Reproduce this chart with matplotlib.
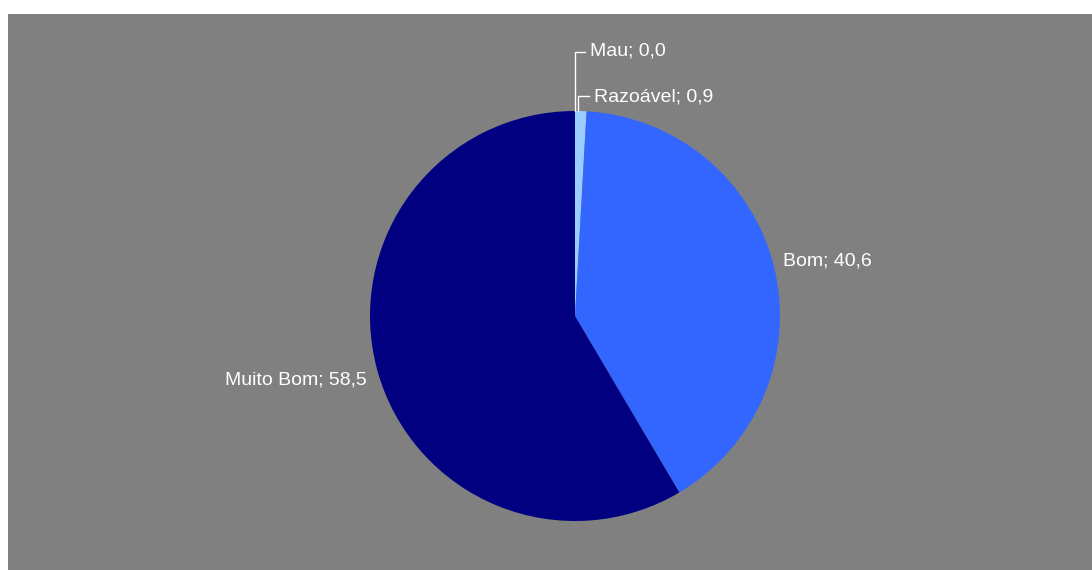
import matplotlib.pyplot as plt
from matplotlib.patches import Rectangle

# data
labels = ['Mau', 'Razoável', 'Bom', 'Muito Bom']
values = [0.0, 0.9, 40.6, 58.5]
colors = ['#CCE0FF', '#99CCFF', '#3366FF', '#000080']

W, H = 1092, 570
fig = plt.figure(figsize=(W / 100, H / 100), dpi=100)
fig.patch.set_facecolor('white')
ax = fig.add_axes([0, 0, 1, 1])

# gray plot area
ax.add_patch(Rectangle((8, 0), W - 8, H - 14, facecolor='#808080', edgecolor='none', zorder=0))

cx, cy, r = 575, H - 316, 205
ax.pie(values, colors=colors, startangle=90, counterclock=False,
       center=(cx, cy), radius=r, frame=True,
       wedgeprops=dict(linewidth=0))
ax.set_xlim(0, W)
ax.set_ylim(0, H)
ax.set_aspect('equal')
ax.axis('off')

def txt(s):
    return s.replace('.', ',')

font = dict(color='white', fontsize=14, family='Liberation Sans', va='center')

# small slices with leader lines
top = H - 111
ax.plot([575, 575, 585], [top, H - 52, H - 52], color='white', lw=1)
ax.text(590, H - 51, f'{labels[0]}; {txt(f"{values[0]:.1f}")}', ha='left', **font)
ax.plot([578, 578, 589], [top, H - 96, H - 96], color='white', lw=1)
ax.text(594, H - 97, f'{labels[1]}; {txt(f"{values[1]:.1f}")}', ha='left', **font)

ax.text(783, H - 261, f'{labels[2]}; {txt(f"{values[2]:.1f}")}', ha='left', **font)
ax.text(367, H - 380, f'{labels[3]}; {txt(f"{values[3]:.1f}")}', ha='right', **font)

fig.savefig('out.png', dpi=100)
